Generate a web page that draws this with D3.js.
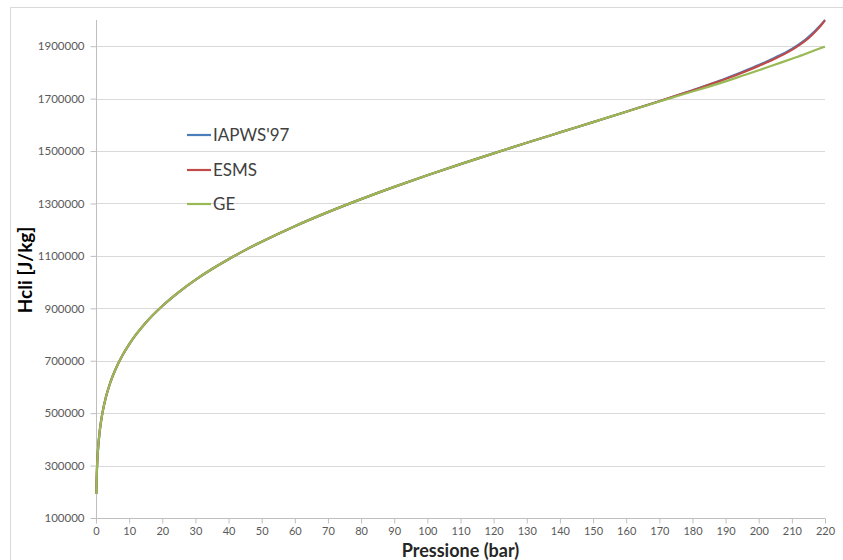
<!DOCTYPE html>
<html>
<head>
<meta charset="utf-8">
<script src="https://cdn.jsdelivr.net/npm/d3@7"></script>
<style>
  html, body { margin: 0; padding: 0; background: #fff; }
  svg { display: block; }
</style>
</head>
<body>
<svg id="chart" width="843" height="560"></svg>
<script>
// Pressure (bar) sampling points
const pressure = [0.1, 0.2, 0.3, 0.5, 0.75, 1, 1.5, 2, 3, 4, 5, 6, 8, 10, 12, 15, 20, 25, 30, 35, 40, 45, 50,
  60, 70, 80, 90, 100, 110, 120, 130, 140, 150, 160, 170, 175, 180, 185, 190, 195, 200, 205, 210, 212, 214, 216, 218, 219, 220];

// Saturated liquid enthalpy (J/kg) for each model
const iapws97 = [191800, 251400, 289200, 340500, 384400, 417500, 467100, 504700, 561500, 604700, 640200, 670600, 721100, 762800, 798600, 844900, 908800, 962100, 1008400, 1049800, 1087300, 1122100, 1154200,
  1213400, 1267000, 1316600, 1363300, 1407600, 1450100, 1491300, 1531500, 1571100, 1610500, 1650100, 1690300, 1711000, 1732000, 1754000, 1777000, 1802000, 1828000, 1857000, 1890000, 1906000, 1924000, 1946000, 1971000, 1985000, 2000000];

const esms = [191800, 251400, 289200, 340500, 384400, 417500, 467100, 504700, 561500, 604700, 640200, 670600, 721100, 762800, 798600, 844900, 908800, 962100, 1008400, 1049800, 1087300, 1122100, 1154200,
  1213400, 1267000, 1316600, 1363300, 1407600, 1450100, 1491300, 1531500, 1571100, 1610500, 1650100, 1690300, 1711000, 1731000, 1753000, 1775000, 1799000, 1825000, 1853000, 1886000, 1902000, 1920000, 1942000, 1968000, 1983000, 1999000];

const ge = [191800, 251400, 289200, 340500, 384400, 417500, 467100, 504700, 561500, 604700, 640200, 670600, 721100, 762800, 798600, 844900, 908800, 962100, 1008400, 1049800, 1087300, 1122100, 1154200,
  1213400, 1267000, 1316600, 1363300, 1407600, 1450100, 1491300, 1531500, 1571100, 1610500, 1650100, 1689000, 1708000, 1727000, 1746000, 1766000, 1787000, 1808000, 1830000, 1852000, 1861000, 1870000, 1880000, 1889000, 1894000, 1898000];

const seriesNames = ["IAPWS'97", "ESMS", "GE"];
const seriesColors = ["#4a7ebb", "#be4b48", "#98b954"];
const xTicks = d3.range(0, 221, 10);
const yTicks = d3.range(100000, 1900001, 200000);

const svg = d3.select("#chart");
const plotLeft = 96, plotRight = 825, plotTop = 20, plotBottom = 518;

const x = d3.scaleLinear().domain([0, 220]).range([plotLeft, plotRight]);
const y = d3.scaleLinear().domain([100000, 2000000]).range([plotBottom, plotTop]);

// chart frame (only top and left edges fall inside the page)
svg.append("path")
  .attr("d", `M10.5,560 V7.5 H843`)
  .attr("fill", "none").attr("stroke", "#d9d9d9").attr("stroke-width", 1);

// horizontal gridlines
svg.append("g").selectAll("line")
  .data(yTicks.filter(v => v > 100000))
  .join("line")
  .attr("x1", plotLeft).attr("x2", plotRight)
  .attr("y1", d => Math.round(y(d)) + 0.5).attr("y2", d => Math.round(y(d)) + 0.5)
  .attr("stroke", "#d9d9d9").attr("stroke-width", 1);

// y axis
const yAxis = d3.axisLeft(y).tickValues(yTicks).tickFormat(d3.format("d")).tickSize(6).tickPadding(6);
const gy = svg.append("g").attr("transform", `translate(${plotLeft + 0.5},0)`).call(yAxis);
gy.select(".domain").attr("d", `M0,${plotTop}V${plotBottom}`).attr("stroke", "#bfbfbf");
gy.selectAll(".tick line").attr("stroke", "#bfbfbf");
gy.selectAll(".tick text").attr("fill", "#595959").style("font-family", "Lato, 'Open Sans', sans-serif").style("font-size", "11.5px");

// x axis
const xAxis = d3.axisBottom(x).tickValues(xTicks).tickFormat(d3.format("d")).tickSize(5).tickPadding(4);
const gx = svg.append("g").attr("transform", `translate(0,${plotBottom + 0.5})`).call(xAxis);
gx.select(".domain").attr("d", `M${plotLeft},0H${plotRight}`).attr("stroke", "#bfbfbf");
gx.selectAll(".tick line").attr("stroke", "#bfbfbf");
gx.selectAll(".tick text").attr("fill", "#595959").style("font-family", "Lato, 'Open Sans', sans-serif").style("font-size", "11px");

// series lines
const line = d3.line().x(d => x(d[0])).y(d => y(d[1])).curve(d3.curveMonotoneX);
const seriesValues = [iapws97, esms, ge];
seriesValues.forEach((vals, i) => {
  svg.append("path")
    .datum(pressure.map((p, j) => [p, vals[j]]))
    .attr("d", line)
    .attr("fill", "none")
    .attr("stroke", seriesColors[i])
    .attr("stroke-width", 2.2)
    .attr("stroke-linejoin", "round");
});

// legend
const legend = svg.append("g");
const legendY = [135, 170, 204];
seriesNames.forEach((name, i) => {
  legend.append("line")
    .attr("x1", 187).attr("x2", 211)
    .attr("y1", legendY[i]).attr("y2", legendY[i])
    .attr("stroke", seriesColors[i]).attr("stroke-width", 2.2);
  legend.append("text")
    .attr("x", 213).attr("y", legendY[i])
    .attr("dy", "0.35em")
    .attr("fill", "#404040")
    .style("font-family", "Lato, 'Open Sans', sans-serif")
    .style("font-size", "17px")
    .text(name);
});

// axis titles
svg.append("text")
  .attr("x", (plotLeft + plotRight) / 2).attr("y", 557)
  .attr("text-anchor", "middle")
  .attr("fill", "#262626")
  .style("font-family", "Lato, 'Open Sans', sans-serif")
  .style("font-weight", "bold").style("font-size", "18px")
  .text("Pressione (bar)");

svg.append("text")
  .attr("transform", "translate(32,270) rotate(-90)")
  .attr("text-anchor", "middle")
  .attr("fill", "#000")
  .style("font-family", "Lato, 'Open Sans', sans-serif")
  .style("font-weight", "bold").style("font-size", "19px")
  .text("Hcli [J/kg]");
</script>
</body>
</html>
